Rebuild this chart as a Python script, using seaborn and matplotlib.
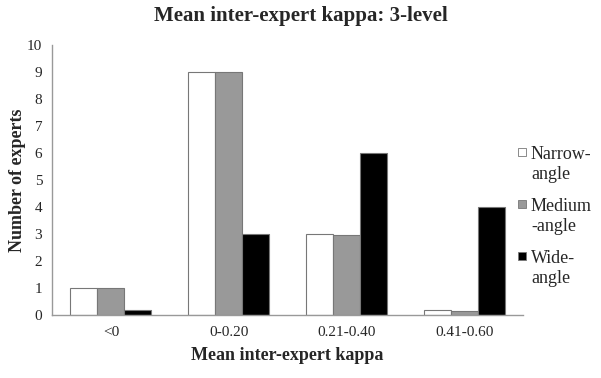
import matplotlib
matplotlib.use("Agg")
import matplotlib.pyplot as plt
import seaborn as sns
import pandas as pd
from matplotlib.patches import Rectangle

categories = ["<0", "0-0.20", "0.21-0.40", "0.41-0.60"]
narrow = [1, 9, 3, 0.2]
medium = [1, 9, 2.95, 0.15]
wide = [0.2, 3, 6, 4]
series = ["Narrow-\nangle", "Medium\n-angle", "Wide-\nangle"]
colors = ["white", "#999999", "black"]

rows = []
for name, vals in zip(series, [narrow, medium, wide]):
    for c, v in zip(categories, vals):
        rows.append({"cat": c, "series": name, "val": v})
df = pd.DataFrame(rows)

sns.set_style("white")
plt.rcParams["font.family"] = ["Liberation Serif", "DejaVu Serif"]

W, H = 601, 378
fig = plt.figure(figsize=(W/100, H/100), dpi=100)
ax = fig.add_axes([52/W, 63/H, (523-52)/W, (315-45)/H])
sns.barplot(data=df, x="cat", y="val", hue="series", palette=colors,
            order=categories, hue_order=series, width=0.69,
            edgecolor="#777777", linewidth=0.8, legend=False, ax=ax)
ax.set_ylim(0, 10)
ax.set_xlim(-0.5, 3.5)
ax.set_yticks(range(0, 11))
ax.set_xticks([0, 1, 2, 3])
ax.set_xticklabels(categories)
ax.set_xticks([0.5, 1.5, 2.5], minor=True)
ax.tick_params(axis="x", which="major", length=0, labelsize=11, pad=8)
ax.tick_params(axis="x", which="minor", length=4, color="#999999", direction="out")
ax.tick_params(axis="y", length=4, color="#999999", direction="out", labelsize=11, pad=3)
for s in ["top", "right"]:
    ax.spines[s].set_visible(False)
for s in ["left", "bottom"]:
    ax.spines[s].set_color("#999999")
    ax.spines[s].set_linewidth(1.0)
ax.set_xlabel("Mean inter-expert kappa", fontsize=13, fontweight="bold", labelpad=6)
ax.set_ylabel("Number of experts", fontsize=13, fontweight="bold", labelpad=1)
fig.suptitle("Mean inter-expert kappa: 3-level", fontsize=15, fontweight="bold", y=0.985)

# legend drawn manually to align squares with the first text line
leg_top = [148, 200, 252]
for name, c, y in zip(series, colors, leg_top):
    fig.patches.append(Rectangle((518/W, 1 - (y + 8)/H), 7.5/W, 8/H,
                                 transform=fig.transFigure, facecolor=c,
                                 edgecolor="#777777", linewidth=0.6))
    fig.text(531/W, 1 - (y - 2)/H, name, fontsize=13, va="top", ha="left",
             linespacing=1.25)
fig.savefig("out.png", dpi=100)
